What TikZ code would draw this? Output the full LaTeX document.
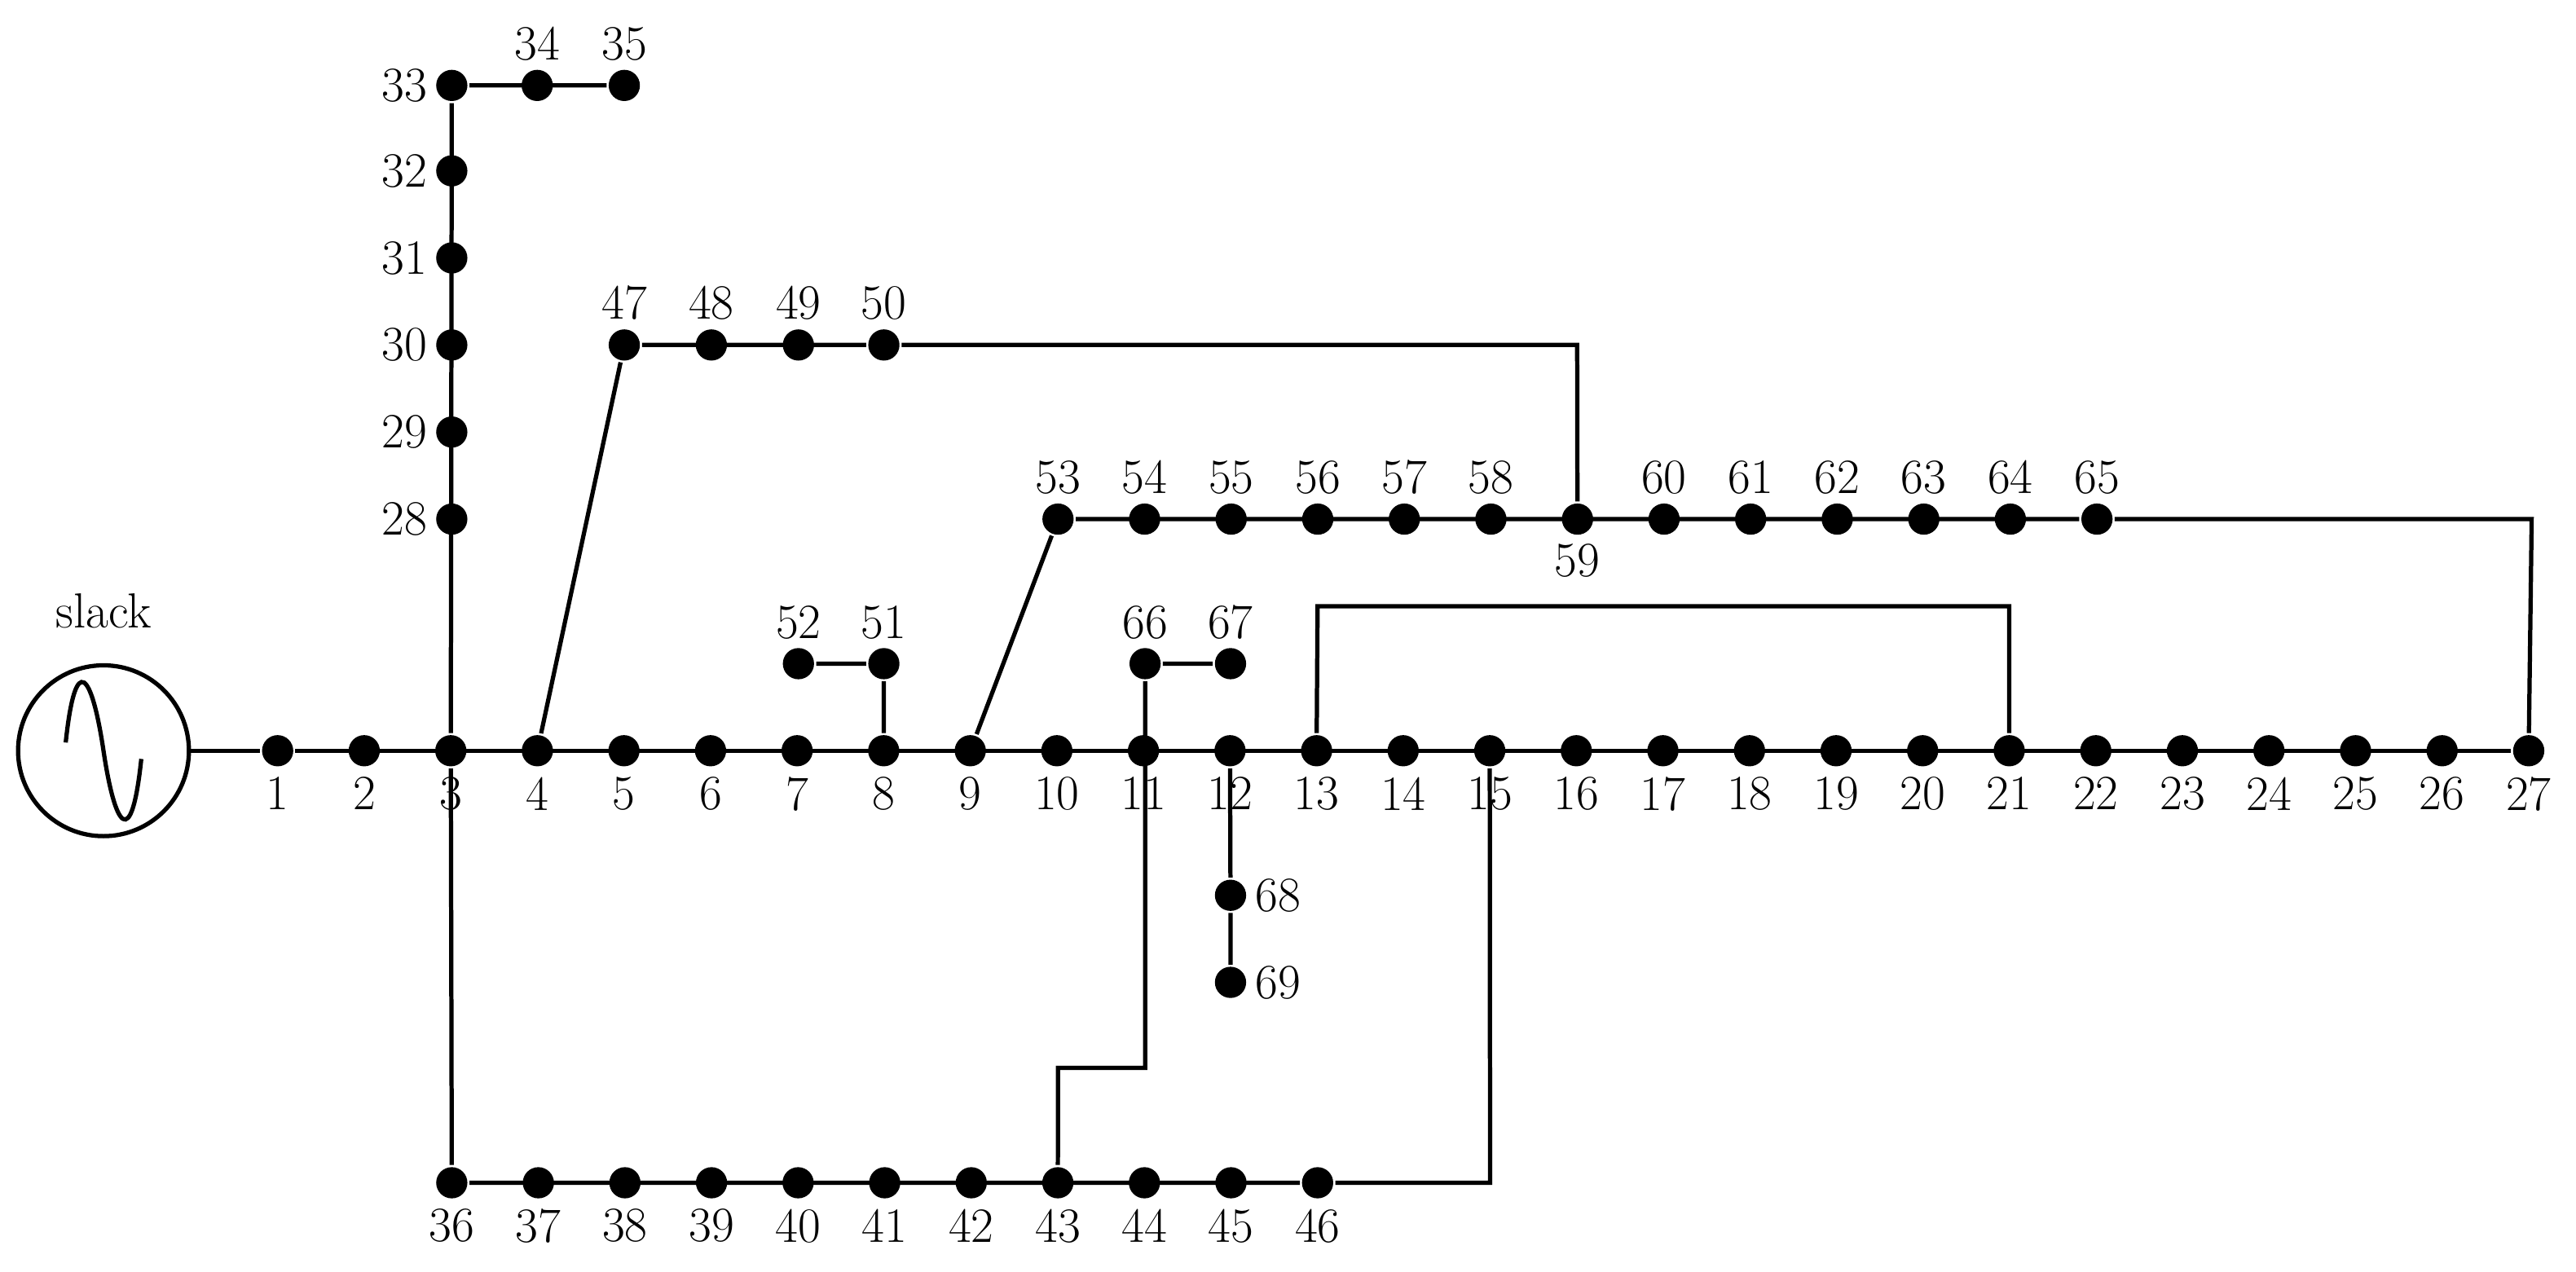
\documentclass[tikz,border=0pt]{standalone}
\begin{document}
\begin{tikzpicture}[x=1pt,y={(0,-1pt)},line width=2.6pt,
  bus/.style={circle,fill=black,inner sep=0pt,minimum size=19pt},
  lbl/.style={font=\fontsize{30}{36}\selectfont,inner sep=2pt}]
\useasboundingbox (0,0) rectangle (1568,774);
% main line 1..27
\foreach \i in {1,...,27}{
  \pgfmathsetmacro\xx{169+52.7*(\i-1)}
  \node[bus] (n\i) at (\xx,457) {};
  \node[lbl,below=2pt] at (n\i.south) {\i};
}
% 28..33
\foreach \i/\y in {28/316,29/263,30/210,31/157,32/104,33/52}{
  \node[bus] (n\i) at (275,\y) {};
  \node[lbl,left=1pt] at (n\i.west) {\i};
}
\node[bus] (n34) at (327,52) {}; \node[bus] (n35) at (380,52) {};
% 47-50
\foreach \i/\x in {47/380,48/433,49/486,50/538}{ \node[bus] (n\i) at (\x,210) {}; }
% 53-65
\foreach \i in {53,...,65}{
  \pgfmathsetmacro\xx{644+52.7*(\i-53)}
  \node[bus] (n\i) at (\xx,316) {};
}
\node[bus] (n52) at (486,404) {}; \node[bus] (n51) at (538,404) {};
\node[bus] (n66) at (697,404) {}; \node[bus] (n67) at (749,404) {};
\node[bus] (n68) at (749,545) {}; \node[bus] (n69) at (749,598) {};
\foreach \i in {36,...,46}{
  \pgfmathsetmacro\xx{275+52.7*(\i-36)}
  \node[bus] (n\i) at (\xx,720) {};
  \node[lbl,below=2pt] at (n\i.south) {\i};
}
% labels above
\foreach \i in {34,35,47,48,49,50,53,54,55,56,57,58,60,61,62,63,64,65,52,51,66,67}{
  \node[lbl,above=1pt] at (n\i.north) {\i};
}
\node[lbl,below=1pt] at (n59.south) {59};
\node[lbl,right=1pt] at (n68.east) {68};
\node[lbl,right=1pt] at (n69.east) {69};
% slack
\node[circle,draw,minimum size=104pt,inner sep=0pt] (s) at (63,457) {};
\node[lbl] at (63,372) {slack};
\draw (12,457) ++(25,0) coordinate (w0);
\draw[line width=2.6pt] (40,452) .. controls (46,395) and (56,410) .. (63,457) .. controls (70,504) and (80,519) .. (86,462);
% connectors
\draw (s) -- (n1) -- (n27);
\draw (n3) -- (n33) -- (n35);
\draw (n3) -- (n36) -- (n46) -- (907,720) -- (n15);
\draw (n4) -- (n47) -- (n50) -- (960,210) -- (n59);
\draw (n9) -- (n53) -- (n65) -- (1541,316) -- (n27);
\draw (n52) -- (n51) -- (n8);
\draw (n67) -- (n66) -- (697,650) -- (644,650) -- (n43);
\draw (n12) -- (n68) -- (n69);
\draw (n13) -- (802,369) -- (1223,369) -- (n21);
\end{tikzpicture}
\end{document}
